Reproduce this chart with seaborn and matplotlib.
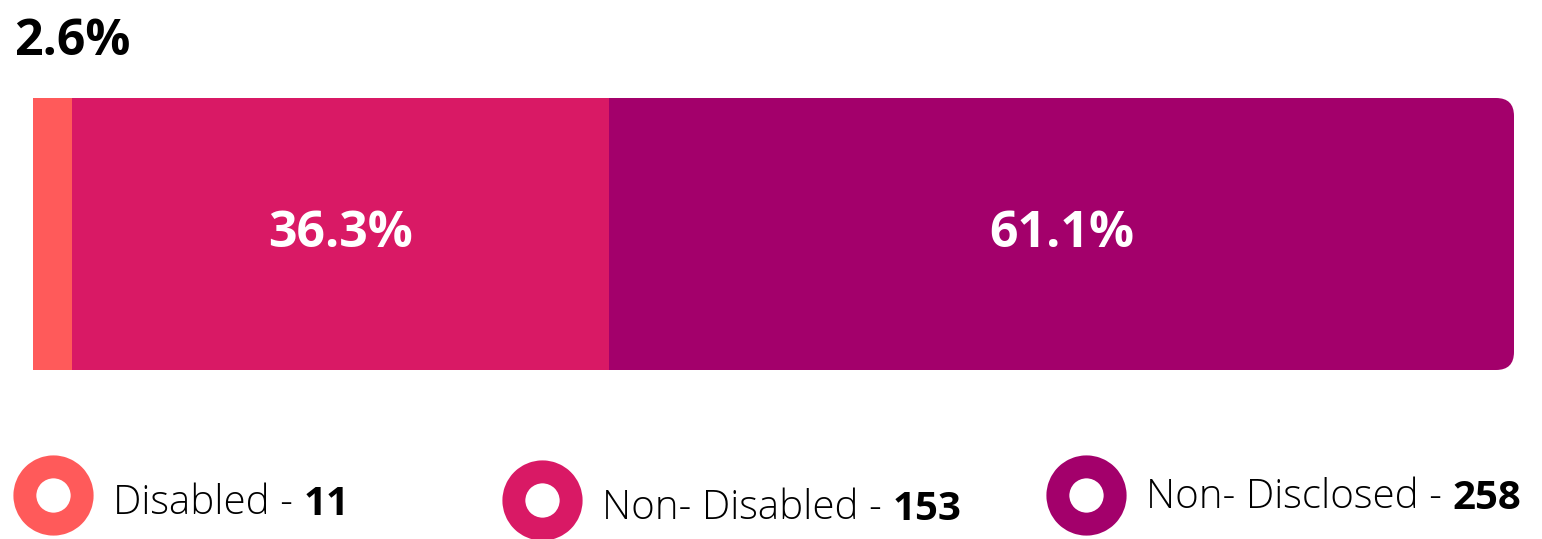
import matplotlib
matplotlib.use("Agg")
import matplotlib.pyplot as plt
from matplotlib.patches import FancyBboxPatch
import numpy as np
import pandas as pd
import seaborn as sns

# dados
categories = ["Disabled", "Non- Disabled", "Non- Disclosed"]
counts = [11, 153, 258]
percent_labels = ["2.6%", "36.3%", "61.1%"]
colors = ["#FF5A5A", "#D91965", "#A3006B"]

# layout da legenda (pixels da figura)
legend_x = [53, 542, 1086]
legend_y = [495, 500, 495]
legend_text_y = [524, 529, 518]

W, H = 1542, 539


def build_frame():
    df = pd.DataFrame({"category": categories, "count": counts})
    df["pct"] = df["count"] / df["count"].sum() * 100
    df["left"] = df["pct"].cumsum() - df["pct"]
    df["right"] = df["pct"].cumsum()
    return df


def draw_bar(fig, df):
    ax = fig.add_axes([33 / W, (H - 370) / H, 1481 / W, 272 / H])
    # barras empilhadas: desenhar do total para o menor
    for i in reversed(range(len(df))):
        sns.barplot(x=[df["right"][i]], y=["all"], orient="h", width=1.0,
                    color=colors[i], saturation=1, ax=ax, linewidth=0)
    ax.set_xlim(0, 100)
    ax.set_ylim(0.5, -0.5)

    # arredondar a ponta direita do ultimo segmento
    last = ax.patches[0]
    x0, y0 = last.get_x(), last.get_y()
    w, h = last.get_width(), last.get_height()
    px_per_x = 1481 / 100
    px_per_y = 272 / 1.0
    r = 18 / px_per_x
    box = FancyBboxPatch((x0, y0), w, h,
                         boxstyle=f"round,pad=0,rounding_size={r}",
                         mutation_aspect=px_per_x / px_per_y,
                         facecolor=colors[2], edgecolor="none", zorder=0.5)
    last.remove()
    ax.add_patch(box)
    for p in ax.patches:
        if p is not box:
            p.set_zorder(1)

    for i in range(1, len(df)):
        mid = (df["left"][i] + df["right"][i]) / 2
        ax.text(mid, 0, percent_labels[i], ha="center", va="center",
                color="white", fontsize=36, fontweight="bold", zorder=3)
    ax.axis("off")
    return ax


def draw_legend(fig, df):
    lax = fig.add_axes([0, 0, 1, 1])
    lax.set_xlim(0, W)
    lax.set_ylim(H, 0)
    lax.axis("off")
    for i in range(len(df)):
        lax.scatter([legend_x[i]], [legend_y[i]], s=1700, facecolor="white",
                    edgecolor=colors[i], linewidth=16.5, zorder=2)
        t = lax.text(legend_x[i] + 60, legend_text_y[i], categories[i] + " - ",
                     ha="left", va="bottom", fontsize=29, fontweight="light",
                     color="black")
        lax.annotate(str(counts[i]), xy=(1, 0), xycoords=t, ha="left",
                     va="bottom", fontsize=29, fontweight="bold", color="black")


def main():
    sns.set_theme(style="white")
    plt.rcParams["font.family"] = ["Open Sans", "DejaVu Sans"]
    fig = plt.figure(figsize=(W / 100, H / 100), dpi=100)
    fig.patch.set_facecolor("white")
    df = build_frame()
    draw_bar(fig, df)
    fig.text(14 / W, 1 - 42 / H, percent_labels[0], ha="left", va="center",
             fontsize=36, fontweight="bold", color="black")
    draw_legend(fig, df)
    fig.savefig("out.png", dpi=100)


if __name__ == "__main__":
    main()
